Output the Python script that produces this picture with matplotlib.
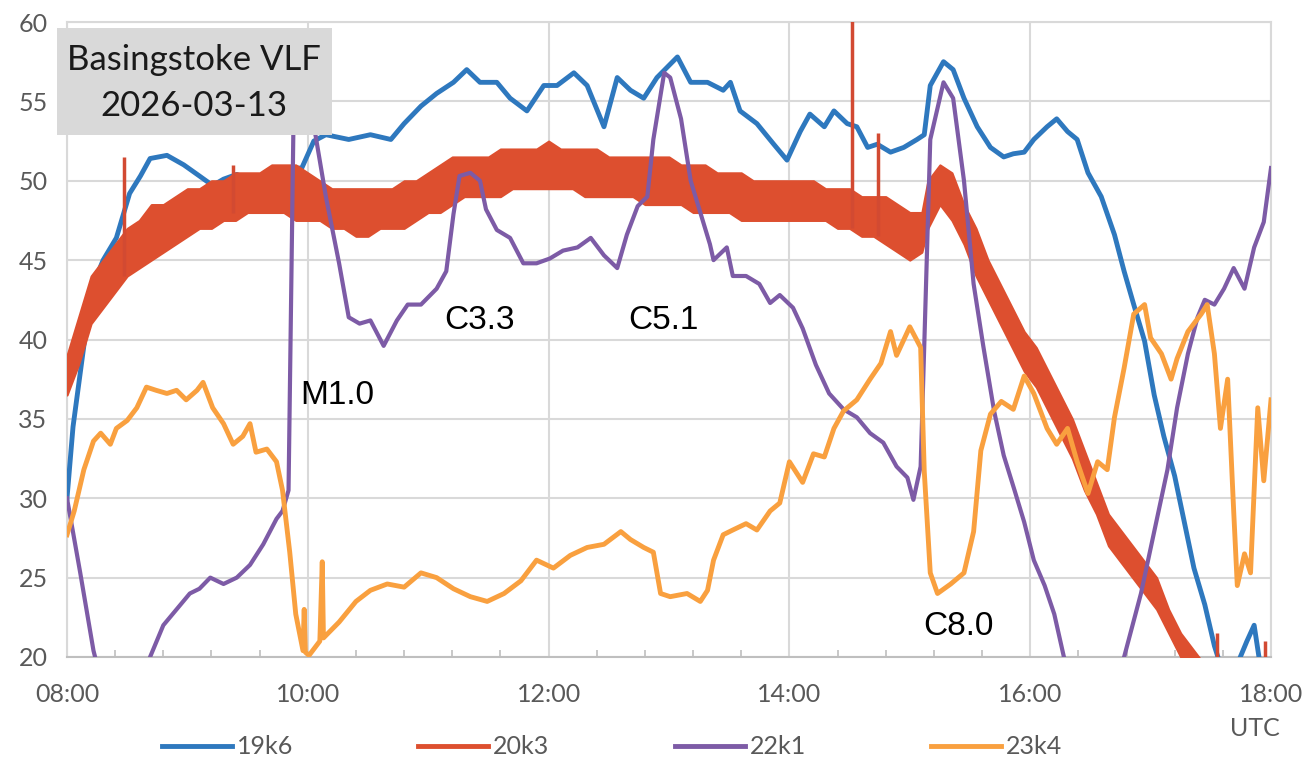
import numpy as np
import matplotlib
matplotlib.use("Agg")
import matplotlib.pyplot as plt
from matplotlib.patches import Rectangle
from matplotlib.lines import Line2D

# times are decimal hours UTC
blue_t = [8.00, 8.05, 8.14, 8.22, 8.30, 8.41, 8.52, 8.61, 8.69, 8.83,
          8.97, 9.10, 9.21, 9.30, 9.41, 9.52, 9.66, 9.79, 9.88, 9.95,
          10.05, 10.15, 10.34, 10.52, 10.69, 10.80, 10.94, 11.07, 11.21, 11.32,
          11.43, 11.57, 11.68, 11.82, 11.96, 12.07, 12.21, 12.32, 12.46, 12.57,
          12.68, 12.79, 12.90, 13.07, 13.18, 13.32, 13.45, 13.51, 13.59, 13.73,
          13.87, 13.98, 14.09, 14.17, 14.29, 14.37, 14.48, 14.56, 14.65, 14.73,
          14.84, 14.95, 15.06, 15.12, 15.17, 15.28, 15.36, 15.45, 15.56, 15.67,
          15.78, 15.86, 15.95, 16.03, 16.14, 16.22, 16.31, 16.39, 16.48, 16.59,
          16.70, 16.78, 16.86, 16.95, 17.03, 17.11, 17.20, 17.28, 17.36, 17.45,
          17.53, 17.58, 17.69, 17.80, 17.86, 17.91, 18.00]
blue_v = [30.0, 34.5, 39.6, 43.5, 45.0, 46.4, 49.2, 50.3, 51.4, 51.6,
          51.0, 50.3, 49.7, 50.1, 50.4, 50.0, 49.5, 50.3, 50.8, 50.8,
          52.5, 52.9, 52.6, 52.9, 52.6, 53.6, 54.7, 55.5, 56.2, 57.0,
          56.2, 56.2, 55.2, 54.4, 56.0, 56.0, 56.8, 56.0, 53.4, 56.5,
          55.7, 55.2, 56.5, 57.8, 56.2, 56.2, 55.7, 56.2, 54.4, 53.6,
          52.3, 51.3, 53.1, 54.2, 53.4, 54.4, 53.6, 53.4, 52.1, 52.3,
          51.8, 52.1, 52.6, 52.9, 56.0, 57.5, 57.0, 55.2, 53.4, 52.1,
          51.5, 51.7, 51.8, 52.6, 53.4, 53.9, 53.1, 52.6, 50.5, 49.0,
          46.6, 44.3, 42.2, 39.9, 36.5, 33.9, 31.4, 28.5, 25.6, 23.3,
          20.7, 19.5, 19.0, 21.0, 22.0, 19.5, 19.5]

# 20k3 is a noisy band, kept as low / high envelope
red_t = [8.00, 8.10, 8.20, 8.30, 8.40, 8.50, 8.60, 8.70, 8.80, 8.90,
         9.00, 9.10, 9.20, 9.30, 9.40, 9.50, 9.60, 9.70, 9.80, 9.90,
         10.00, 10.10, 10.20, 10.30, 10.40, 10.50, 10.60, 10.70, 10.80, 10.90,
         11.00, 11.10, 11.20, 11.30, 11.40, 11.50, 11.60, 11.70, 11.80, 11.90,
         12.00, 12.10, 12.20, 12.30, 12.40, 12.50, 12.60, 12.70, 12.80, 12.90,
         13.00, 13.10, 13.20, 13.30, 13.40, 13.50, 13.60, 13.70, 13.80, 13.90,
         14.00, 14.10, 14.20, 14.30, 14.40, 14.50, 14.60, 14.70, 14.80, 14.90,
         15.00, 15.10, 15.15, 15.25, 15.35, 15.45, 15.55, 15.65, 15.75, 15.85,
         15.95, 16.05, 16.15, 16.25, 16.35, 16.45, 16.55, 16.65, 16.75, 16.85,
         16.95, 17.05, 17.15, 17.25, 17.35, 17.45, 18.00]
red_lo = [36.5, 38.5, 41.0, 42.0, 43.0, 44.0, 44.5, 45.0, 45.5, 46.0,
          46.5, 47.0, 47.0, 47.5, 47.5, 48.0, 48.0, 48.0, 48.0, 47.5,
          47.5, 47.5, 47.0, 47.0, 46.5, 46.5, 47.0, 47.0, 47.0, 47.5,
          48.0, 48.0, 48.5, 49.0, 49.0, 49.0, 49.0, 49.5, 49.5, 49.5,
          49.5, 49.5, 49.5, 49.0, 49.0, 49.0, 49.0, 49.0, 48.5, 48.5,
          48.5, 48.5, 48.0, 48.0, 48.0, 48.0, 47.5, 47.5, 47.5, 47.5,
          47.5, 47.5, 47.5, 47.5, 47.0, 47.0, 46.5, 46.5, 46.0, 45.5,
          45.0, 45.5, 47.0, 48.5, 47.5, 46.0, 44.0, 42.5, 41.0, 39.5,
          38.0, 37.0, 35.5, 34.0, 32.5, 30.5, 29.0, 27.0, 26.0, 25.0,
          24.0, 23.0, 21.5, 20.0, 19.0, 18.0, 18.0]
red_hi = [39.0, 41.5, 44.0, 45.0, 46.0, 47.0, 47.5, 48.5, 48.5, 49.0,
          49.5, 49.5, 50.0, 50.0, 50.5, 50.5, 50.5, 51.0, 51.0, 51.0,
          50.5, 50.0, 49.5, 49.5, 49.5, 49.5, 49.5, 49.5, 50.0, 50.0,
          50.5, 51.0, 51.5, 51.5, 51.5, 51.5, 52.0, 52.0, 52.0, 52.0,
          52.5, 52.0, 52.0, 52.0, 52.0, 51.5, 51.5, 51.5, 51.5, 51.5,
          51.5, 51.0, 51.0, 51.0, 50.5, 50.5, 50.5, 50.0, 50.0, 50.0,
          50.0, 50.0, 50.0, 49.5, 49.5, 49.5, 49.0, 49.0, 49.0, 48.5,
          48.0, 48.0, 50.0, 51.0, 50.5, 48.5, 47.0, 45.0, 43.5, 42.0,
          40.5, 39.5, 38.0, 36.5, 35.0, 33.0, 31.0, 29.0, 28.0, 27.0,
          26.0, 25.0, 23.0, 21.5, 20.5, 19.5, 19.0]
red_spike_t = [8.47, 9.38, 14.52, 14.74, 17.55, 17.95]
red_spike_lo = [44.0, 48.0, 47.0, 46.5, 19.5, 19.5]
red_spike_hi = [51.5, 51.0, 61.0, 53.0, 21.5, 21.0]

purple_t = [8.00, 8.11, 8.22, 8.30, 8.60, 8.69, 8.80, 8.91, 9.02, 9.10,
            9.19, 9.30, 9.41, 9.52, 9.63, 9.74, 9.79, 9.84, 9.88, 9.95,
            10.05, 10.15, 10.26, 10.34, 10.43, 10.52, 10.63, 10.74, 10.83, 10.94,
            11.07, 11.15, 11.21, 11.26, 11.35, 11.43, 11.48, 11.57, 11.68, 11.79,
            11.90, 12.01, 12.12, 12.24, 12.35, 12.46, 12.57, 12.65, 12.74, 12.82,
            12.87, 12.96, 13.01, 13.10, 13.18, 13.26, 13.34, 13.37, 13.48, 13.53,
            13.64, 13.75, 13.84, 13.92, 14.03, 14.11, 14.22, 14.33, 14.45, 14.56,
            14.67, 14.78, 14.89, 14.98, 15.03, 15.09, 15.12, 15.17, 15.28, 15.36,
            15.45, 15.53, 15.61, 15.70, 15.78, 15.87, 15.95, 16.03, 16.12, 16.20,
            16.28, 16.40, 16.70, 16.78, 16.92, 17.03, 17.14, 17.22, 17.31, 17.39,
            17.45, 17.53, 17.61, 17.69, 17.78, 17.86, 17.94, 18.00]
purple_v = [30.0, 25.3, 20.4, 18.0, 18.0, 20.0, 22.0, 23.0, 24.0, 24.3,
            25.0, 24.6, 25.0, 25.8, 27.1, 28.7, 29.2, 30.5, 53.1, 53.6,
            53.5, 49.0, 44.8, 41.4, 41.0, 41.2, 39.6, 41.2, 42.2, 42.2,
            43.2, 44.3, 47.9, 50.3, 50.5, 50.0, 48.2, 46.9, 46.4, 44.8,
            44.8, 45.1, 45.6, 45.8, 46.4, 45.3, 44.5, 46.6, 48.4, 49.0,
            52.6, 56.8, 56.5, 53.9, 50.0, 48.0, 46.0, 45.0, 45.8, 44.0,
            44.0, 43.5, 42.3, 42.8, 42.0, 40.7, 38.4, 36.6, 35.6, 35.1,
            34.1, 33.5, 32.0, 31.3, 29.9, 32.0, 39.6, 52.6, 56.2, 55.2,
            50.0, 43.5, 39.6, 35.5, 32.7, 30.5, 28.5, 26.1, 24.5, 22.7,
            20.0, 18.0, 18.0, 20.0, 24.0, 27.9, 31.8, 35.7, 39.1, 41.4,
            42.5, 42.2, 43.2, 44.5, 43.2, 45.8, 47.4, 50.8]

orange_t = [8.00, 8.06, 8.14, 8.22, 8.28, 8.36, 8.41, 8.50, 8.58, 8.66,
            8.74, 8.83, 8.91, 8.99, 9.08, 9.13, 9.21, 9.30, 9.38, 9.46,
            9.52, 9.57, 9.66, 9.74, 9.79, 9.85, 9.90, 9.96, 9.97, 9.98,
            10.01, 10.10, 10.12, 10.13, 10.26, 10.40, 10.52, 10.66, 10.80, 10.94,
            11.07, 11.21, 11.35, 11.49, 11.63, 11.77, 11.90, 12.04, 12.18, 12.32,
            12.46, 12.60, 12.68, 12.79, 12.87, 12.93, 13.01, 13.15, 13.26, 13.32,
            13.37, 13.45, 13.53, 13.64, 13.73, 13.84, 13.92, 14.00, 14.11, 14.20,
            14.29, 14.37, 14.45, 14.56, 14.67, 14.76, 14.84, 14.89, 15.00, 15.09,
            15.12, 15.17, 15.23, 15.34, 15.45, 15.53, 15.59, 15.67, 15.76, 15.86,
            15.95, 16.03, 16.14, 16.22, 16.31, 16.39, 16.48, 16.56, 16.64, 16.70,
            16.78, 16.86, 16.95, 17.00, 17.09, 17.17, 17.22, 17.31, 17.42, 17.47,
            17.53, 17.58, 17.64, 17.69, 17.72, 17.78, 17.83, 17.89, 17.94, 18.00]
orange_v = [27.7, 29.2, 31.8, 33.6, 34.1, 33.4, 34.4, 34.9, 35.7, 37.0,
            36.8, 36.6, 36.8, 36.2, 36.8, 37.3, 35.7, 34.7, 33.4, 33.9,
            34.7, 32.9, 33.1, 32.3, 30.5, 26.6, 22.7, 20.4, 23.0, 20.3,
            20.1, 21.0, 26.0, 21.2, 22.2, 23.5, 24.2, 24.6, 24.4, 25.3,
            25.0, 24.3, 23.8, 23.5, 24.0, 24.8, 26.1, 25.6, 26.4, 26.9,
            27.1, 27.9, 27.4, 26.9, 26.6, 24.0, 23.8, 24.0, 23.5, 24.2,
            26.1, 27.7, 28.0, 28.4, 28.0, 29.2, 29.7, 32.3, 31.0, 32.8,
            32.6, 34.4, 35.5, 36.2, 37.5, 38.5, 40.5, 39.0, 40.8, 39.5,
            31.7, 25.3, 24.0, 24.6, 25.3, 27.9, 33.0, 35.3, 36.1, 35.6,
            37.7, 36.6, 34.4, 33.4, 34.4, 32.3, 30.3, 32.3, 31.8, 35.1,
            38.2, 41.6, 42.2, 40.1, 39.1, 37.5, 38.8, 40.5, 41.6, 42.2,
            39.1, 34.4, 37.5, 29.2, 24.5, 26.5, 25.3, 35.7, 31.1, 36.2]

flare_labels = ["M1.0", "C3.3", "C5.1", "C8.0"]
flare_t = [9.94, 11.13, 12.66, 15.11]
flare_y = [36.5, 41.2, 41.2, 21.9]

c_blue, c_red, c_purple, c_orange = "#2e78be", "#dd4f2f", "#7d5ba6", "#f9a03f"
grey = "#595959"
grid = "#d9d9d9"

fig = plt.figure(figsize=(13.13, 7.6), dpi=100)
ax = fig.add_axes([67 / 1313, 1 - 657 / 760, 1204 / 1313, 635 / 760])

ax.plot(blue_t, blue_v, color=c_blue, lw=3.5, zorder=3)
ax.fill_between(red_t, red_lo, red_hi, color=c_red, lw=1.5, edgecolor=c_red, zorder=4)
ax.vlines(red_spike_t, red_spike_lo, red_spike_hi, color="#d24a32", lw=2.5, zorder=4)
ax.plot(purple_t, purple_v, color=c_purple, lw=3, zorder=5)
ax.plot(orange_t, orange_v, color=c_orange, lw=3.5, zorder=6)

for lab, t, y in zip(flare_labels, flare_t, flare_y):
    ax.text(t, y, lab, fontsize=24, family="Liberation Sans", va="center", ha="left", zorder=8)

ax.set_xlim(8, 18)
ax.set_ylim(20, 60)
ax.set_xticks(np.arange(8, 19, 2))
ax.set_xticklabels([f"{h:02d}:00" for h in range(8, 19, 2)])
ax.set_xticks(np.arange(8, 18.01, 0.4), minor=True)
ax.set_yticks(np.arange(20, 61, 5))
ax.grid(True, which="major", color=grid, lw=1.5, zorder=0)
ax.tick_params(axis="both", which="major", length=0, labelsize=18, labelcolor=grey)
ax.tick_params(axis="x", which="major", pad=19)
ax.tick_params(axis="y", which="major", pad=14)
ax.tick_params(axis="x", which="minor", direction="in", length=5, color="#bfbfbf", width=1.2)
for s in ["top", "left", "right"]:
    ax.spines[s].set_color(grid)
    ax.spines[s].set_linewidth(1.5)
ax.spines["bottom"].set_color("#bfbfbf")
ax.spines["bottom"].set_linewidth(1.5)
for lbl in ax.get_xticklabels() + ax.get_yticklabels():
    lbl.set_family("Lato")

fig.text(1255 / 1313, 1 - 728 / 760, "UTC", fontsize=18, color=grey, family="Lato", ha="center", va="center")

# title box
fig.patches.append(Rectangle((57 / 1313, 1 - 135 / 760), 275 / 1313, 107 / 760,
                             transform=fig.transFigure, facecolor=grid, edgecolor="none", zorder=5))
fig.text(194 / 1313, 1 - 60 / 760, "Basingstoke VLF", fontsize=25, family="Lato", color="#1a1a1a",
         ha="center", va="center", zorder=6)
fig.text(194 / 1313, 1 - 106 / 760, "2026-03-13", fontsize=25, family="Lato", color="#1a1a1a",
         ha="center", va="center", zorder=6)

handles = [Line2D([], [], color=c, lw=3.5) for c in (c_blue, c_red, c_purple, c_orange)]
fig.legend(handles, ["19k6", "20k3", "22k1", "23k4"], loc="center", ncol=4,
           bbox_to_anchor=(612 / 1313, 1 - 747 / 760), frameon=False, handlelength=2.8,
           handletextpad=0.2, columnspacing=5.0, prop={"family": "Lato", "size": 18},
           labelcolor=grey)

fig.savefig("out.png", dpi=100)
